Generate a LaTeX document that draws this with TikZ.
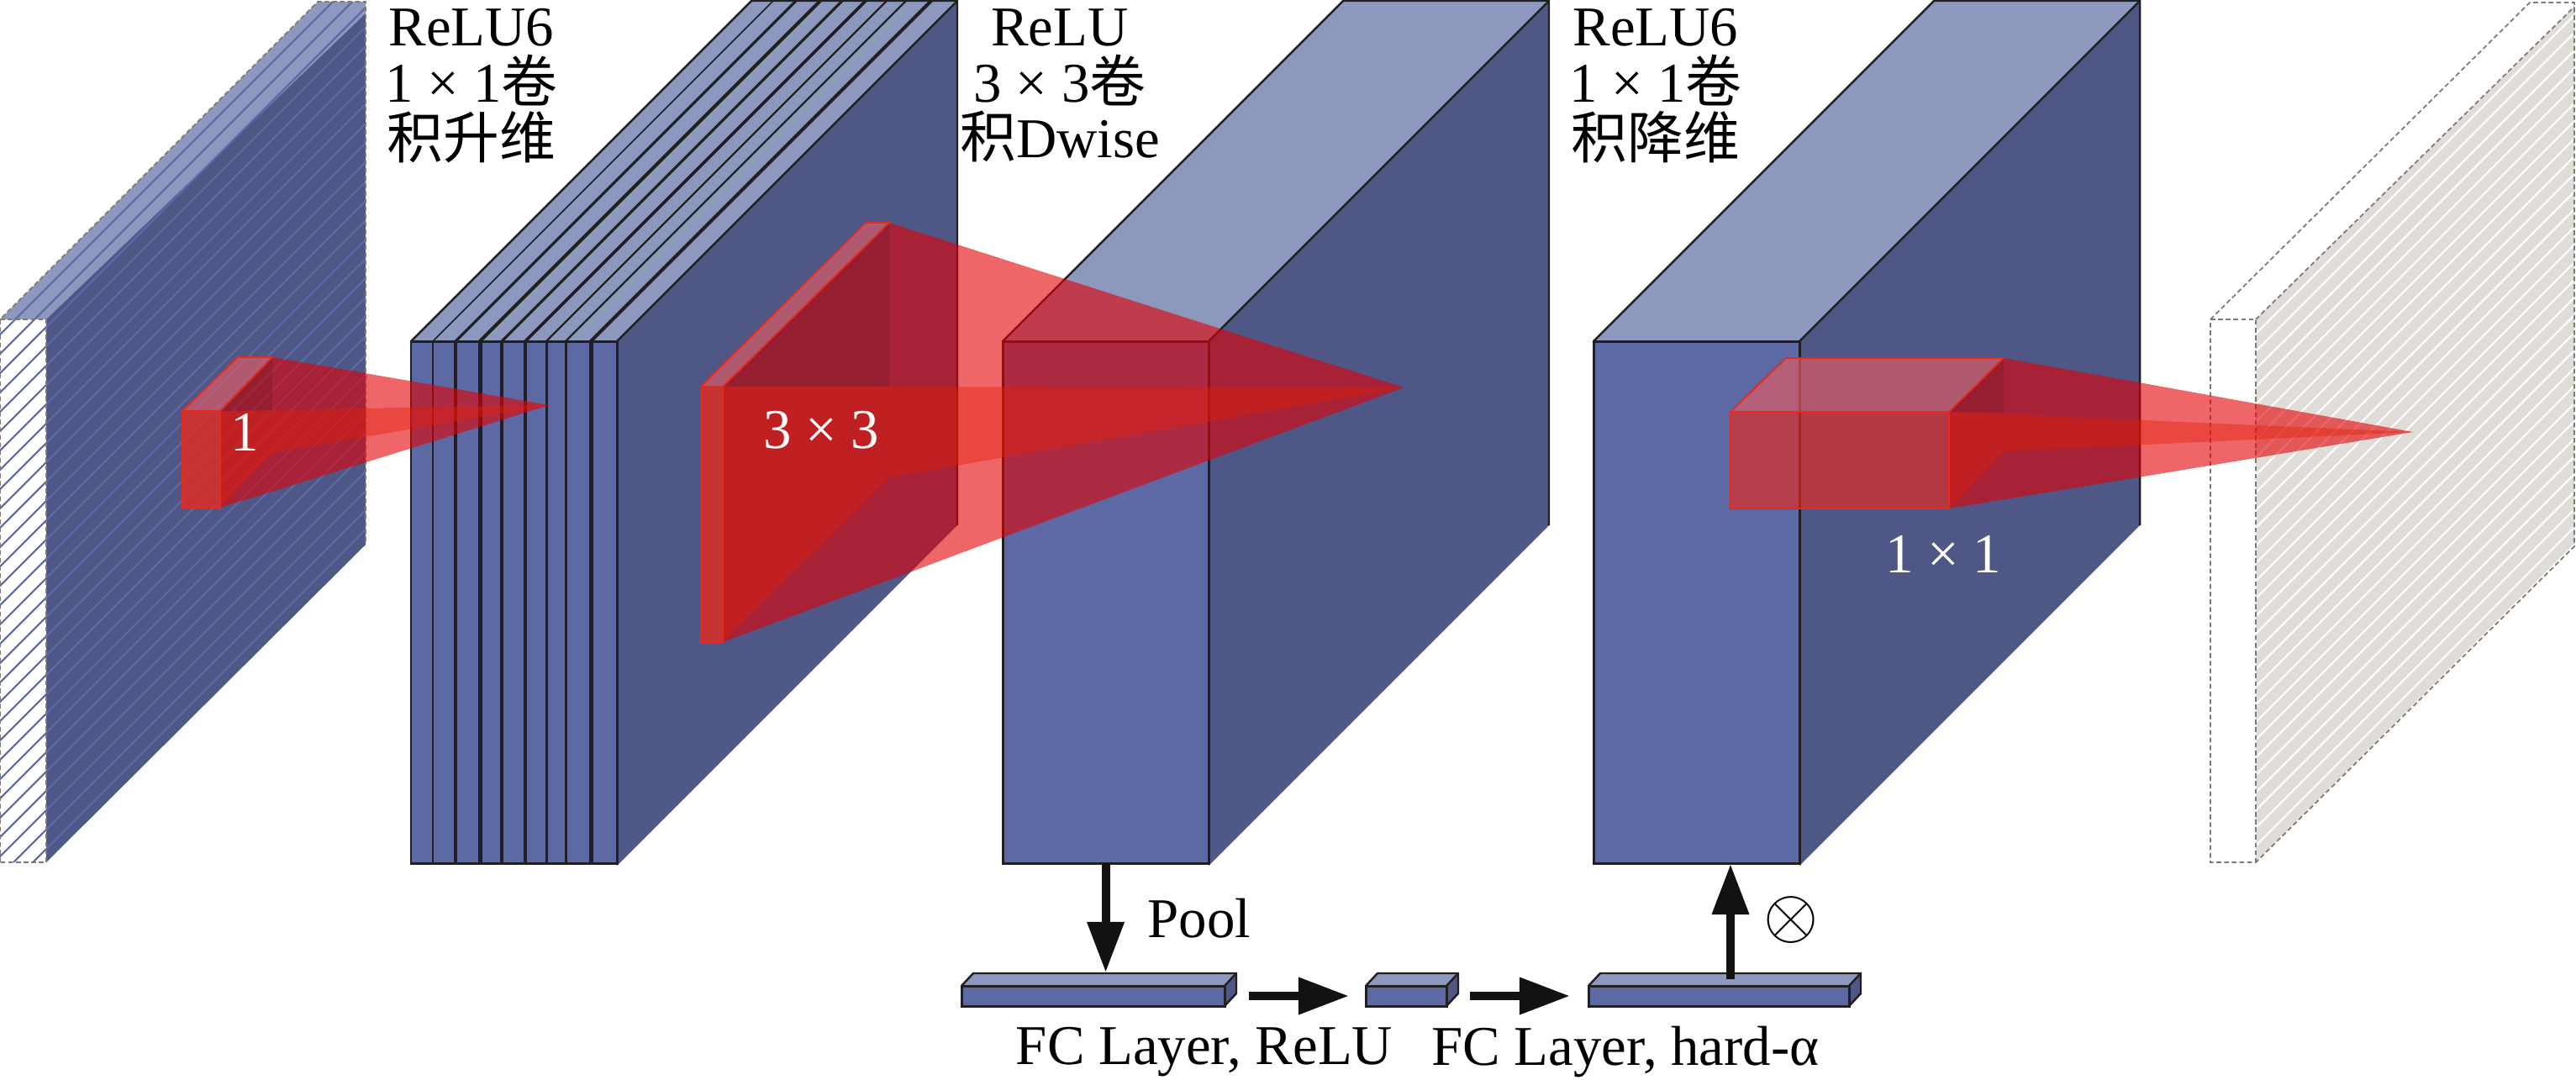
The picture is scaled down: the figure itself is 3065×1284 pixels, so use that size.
\documentclass[tikz,border=0pt]{standalone}
\usepackage{fontspec}
\setmainfont{Liberation Serif}
\newfontfamily\cjk{Noto Sans CJK SC}
\usetikzlibrary{arrows.meta, positioning, calc}
\definecolor{frontBlue}{HTML}{5C69A5}
\definecolor{sideBlue}{HTML}{4F5786}
\definecolor{topBlue}{HTML}{8C98BE}
\definecolor{ghostGrey}{HTML}{E0DCD8}
\definecolor{ghostEdge}{HTML}{7F7A78}
\definecolor{lineBlack}{HTML}{221F20}
\definecolor{arrowBlack}{HTML}{141210}
\definecolor{glassRed}{HTML}{E30002}
\definecolor{beamRed}{HTML}{E41E08}
\definecolor{faceRed}{HTML}{E62A1E}
\definecolor{lidPink}{HTML}{DC5A64}
\tikzset{
  frontbox/.style={draw=lineBlack, fill=frontBlue, line width=.85pt, inner sep=0pt, outer sep=0pt, anchor=north west},
  blockline/.style={lineBlack, line width=.7pt},
  hatchline/.style={frontBlue, line width=.6pt},
  ghostline/.style={ghostEdge, dash pattern=on 1.6pt off 1pt, line width=.5pt},
  lblblack/.style={align=center, font=\fontsize{19}{19}\selectfont, inner sep=0pt},
  lblwhite/.style={white, font=\fontsize{19}{19}\selectfont, inner sep=0pt},
  fatarr/.style={-{Triangle[length=.6cm, width=.42cm]}, arrowBlack, line width=.1cm},
}
\begin{document}
\begin{tikzpicture}[x=0.01cm, y=-0.01cm]
  \useasboundingbox (0,0) rectangle (3065,1284);
  % input layer, hatched
  \fill[topBlue] (0,380) -- (378,2) -- (435,2) -- (435,16) -- (55,380) -- cycle;
  \fill[sideBlue] (55,380) -- (435,16) -- (435,648) -- (55,1026) -- cycle;
  \begin{scope}
    \clip (0,380) -- (378,2) -- (435,2) -- (435,648) -- (55,1026) -- (0,1026) -- cycle;
    \foreach \h in {380,403,...,1500}{
      \draw[hatchline] (-5,\h) -- ++(1000,-1000);}
  \end{scope}
  \draw[ghostline] (0,1026) -- (0,380) -- (378,2) -- (435,2) -- (435,648);
  \draw[ghostline] (0,380) -- (55,380) -- (55,1026) -- (0,1026);
  % three convolution blocks
  \foreach \x/\name in {489/expand, 1193/dwise, 1896/reduce}{
    \fill[topBlue] (\x,406) -- ++(245,0) -- ++(405,-405) -- ++(-245,0) -- cycle;
    \fill[sideBlue] (\x+245,406) -- ++(405,-405) -- ++(0,624) -- ++(-405,405) -- cycle;
    \draw[blockline] (\x,406) -- ++(405,-405) -- ++(245,0) -- ++(0,624);
    \draw[blockline] (\x+245,406) -- ++(405,-405);
    \node[frontbox, minimum width=2.45cm, minimum height=6.21cm] (\name) at (\x,406) {};
  }
  \foreach \x/\lw in {515/2, 542/4, 571/5, 597/4, 625/4.5, 650/3, 673/3, 703/5}{
    \draw[lineBlack, line width=\lw*0.01cm] (\x,406) -- ++(0,621);
    \draw[lineBlack, line width=\lw*0.008cm] (\x,406) -- ++(405,-405);}
  % output layer, dashed
  \fill[ghostGrey] (2684,380) -- (3063,8) -- (3063,650) -- (2684,1026) -- cycle;
  \begin{scope}
    \clip (2684,380) -- (3063,8) -- (3063,650) -- (2684,1026) -- cycle;
    \foreach \h in {380,401,...,1800}{
      \draw[white, line width=.6pt] (2680,\h) -- ++(1000,-1000);}
  \end{scope}
  \draw[ghostline] (2630,380) -- (3010,3) -- (3063,3) -- (3063,650) -- (2684,1026) -- (2630,1026) -- cycle;
  \draw[ghostline] (2630,380) -- (2684,380) -- (2684,1026);
  \draw[ghostline] (2684,380) -- (3063,8);
  % red kernels
  \foreach \fl/\fr/\bl/\br/\ty/\fy/\by/\dy/\ax/\ay/\fo in {217/262/283/324/425/489/539/604/654/482/.8,
      834/860/1030/1058/265/460/568/764/1670/461/.8, 2059/2319/2125/2384/426/490/537/605/2871/514/.66}{
    \fill[glassRed, fill opacity=.6] (\fr,\fy) -- (\br,\ty) -- (\ax,\ay) -- (\fr,\dy) -- cycle;
    \fill[black, fill opacity=.1] (\fr,\fy) -- (\br,\ty) -- (\br,\fy) -- cycle;
    \fill[beamRed, fill opacity=.42] (\fr,\fy) -- (\ax,\ay) -- (\br,\by) -- (\fr,\dy) -- cycle;
    \fill[faceRed, fill opacity=\fo] (\fl,\fy) -- (\fr,\fy) -- (\fr,\dy) -- (\fl,\dy) -- cycle;
    \fill[lidPink, fill opacity=.7] (\fl,\fy) -- (\fr,\fy) -- (\br,\ty) -- (\bl,\ty) -- cycle;
    \draw[faceRed, line width=.5pt] (\fl,\fy) -- (\bl,\ty) -- (\br,\ty) -- (\fr,\fy) -- (\fl,\fy) -- (\fl,\dy) -- (\fr,\dy) -- (\fr,\fy);
  }
  % layers below
  \foreach \x/\w/\name in {1144/313/fcA, 1625/96/fcB, 1890/310/fcC}{
    \fill[topBlue] (\x,1173) -- ++(\w,0) -- ++(14,-15) -- ++(-\w,0) -- cycle;
    \fill[sideBlue] (\x+\w,1173) -- ++(14,-15) -- ++(0,24) -- ++(-14,15) -- cycle;
    \draw[blockline] (\x,1173) -- ++(14,-15) -- ++(\w,0) -- ++(0,24) -- ++(-14,15);
    \draw[blockline] (\x+\w,1173) -- ++(14,-15);
    \node[frontbox, minimum width=\w*0.01cm, minimum height=.24cm] (\name) at (\x,1173) {};
  }
  \coordinate (scaleOut) at (2059,1165);
  \coordinate (scaleIn) at (2059,1028);
  \draw[fatarr, shorten >=.16cm] (dwise.south) -- (dwise.south |- fcA.north);
  \draw[fatarr] (scaleOut) -- (scaleIn);
  \draw[fatarr, shorten <=.29cm, shorten >=.2cm] (fcA.east) -- (fcB.west);
  \draw[fatarr, shorten <=.28cm, shorten >=.22cm] (fcB.east) -- (fcC.west);
  % labels
  \node[lblblack] (txtExpand) at (561,102) {ReLU6\\1 × 1{\cjk 卷}\\{\cjk 积升维}};
  \node[lblblack] (txtDwise) at (1261,102) {ReLU\\3 × 3{\cjk 卷}\\{\cjk 积}Dwise};
  \node[lblblack] (txtReduce) at (1970,102) {ReLU6\\1 × 1{\cjk 卷}\\{\cjk 积降维}};
  \node[lblwhite] (txtOne) at (291,514) {1};
  \node[lblwhite] (txtThree) at (977,512) {3 × 3};
  \node[lblwhite] (txtUnit) at (2312,659) {1 × 1};
  \node[lblblack] (txtPool) at (1427,1093) {Pool};
  \node[inner sep=0pt, font=\huge, scale=1.15] (txtScale) at (2131,1095) {$\otimes$};
  \node[lblblack] (txtFcA) at (1433,1252) {FC Layer, ReLU};
  \node[lblblack] (txtFcC) at (1934,1252) {FC Layer, hard-α};
\end{tikzpicture}
\end{document}
